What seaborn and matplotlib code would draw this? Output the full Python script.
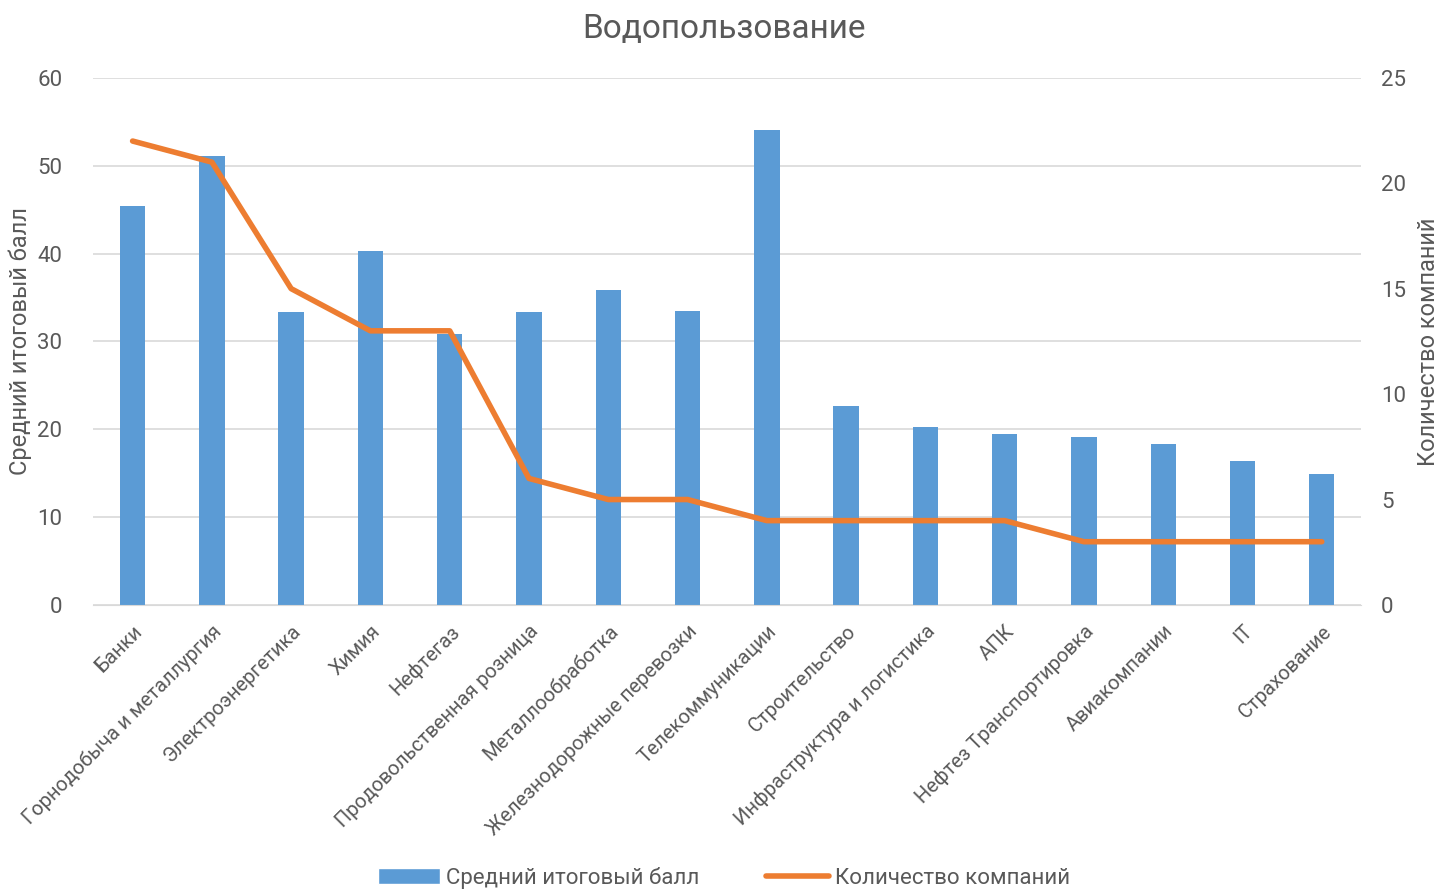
import numpy as np
import pandas as pd
import matplotlib
matplotlib.use("Agg")
import matplotlib.pyplot as plt
import seaborn as sns
from matplotlib.patches import Patch
from matplotlib.lines import Line2D

# data
sectors = ["Банки", "Горнодобыча и металлургия", "Электроэнергетика", "Химия",
           "Нефтегаз", "Продовольственная розница", "Металлообработка",
           "Железнодорожные перевозки", "Телекоммуникации", "Строительство",
           "Инфраструктура и логистика", "АПК", "Нефтез Транспортировка",
           "Авиакомпании", "IT", "Страхование"]
avg_score = [45.4, 51.1, 33.3, 40.3, 30.8, 33.3, 35.8, 33.5,
             54.1, 22.6, 20.3, 19.5, 19.1, 18.3, 16.4, 14.9]
n_companies = [22, 21, 15, 13, 13, 6, 5, 5, 4, 4, 4, 4, 3, 3, 3, 3]

df = pd.DataFrame({"sector": sectors, "score": avg_score, "count": n_companies})

sns.set_style("white")
plt.rcParams['font.family'] = ['Roboto', 'DejaVu Sans']

grey = "#595959"
blue = "#5b9bd5"
orange = "#ed7d31"

fig = plt.figure(figsize=(14.48, 8.89), dpi=100)
ax = fig.add_axes([0.0642, 0.3195, 0.876, 0.593])

sns.barplot(data=df, x="sector", y="score", color=blue, width=0.32,
            saturation=1, ax=ax, zorder=2, linewidth=0)
ax.set_ylim(0, 60)
ax.set_yticks(range(0, 61, 10))
ax.grid(axis="y", color="#d9d9d9", linewidth=1.2)
ax.set_axisbelow(True)
for s in ax.spines.values():
    s.set_visible(False)
ax.spines["bottom"].set_visible(True)
ax.spines["bottom"].set_color("#d9d9d9")
ax.set_xlabel("")
ax.set_ylabel("Средний итоговый балл", fontsize=17, color=grey, labelpad=4)
ax.tick_params(axis="y", labelsize=16, labelcolor=grey, length=0, pad=22)
ax.tick_params(axis="x", labelsize=14.5, labelcolor=grey, length=0, pad=12)
ax.set_xticks(range(len(sectors)))
ax.set_xticklabels(sectors, rotation=45, ha="right", rotation_mode="anchor")
ax.set_xlim(-0.5, len(sectors) - 0.5)

ax2 = ax.twinx()
sns.lineplot(x=np.arange(len(sectors)), y=df["count"], color=orange,
             linewidth=4, ax=ax2, zorder=3)
ax2.set_ylim(0, 25)
ax2.set_yticks(range(0, 26, 5))
ax2.grid(False)
for s in ax2.spines.values():
    s.set_visible(False)
ax2.set_ylabel("Количество компаний", fontsize=17, color=grey, labelpad=8)
ax2.tick_params(axis="y", labelsize=16, labelcolor=grey, length=0, pad=14)

fig.suptitle("Водопользование", fontsize=24, color=grey, y=0.985)

handles = [Patch(facecolor=blue, label="Средний итоговый балл"),
           Line2D([0], [0], color=orange, linewidth=4, label="Количество компаний")]
fig.legend(handles=handles, loc="lower center", ncol=2, frameon=False,
           fontsize=16, labelcolor=grey, bbox_to_anchor=(0.5, -0.022),
           columnspacing=3, handlelength=2.8, handletextpad=0.3)

fig.savefig("out.png", dpi=100)
